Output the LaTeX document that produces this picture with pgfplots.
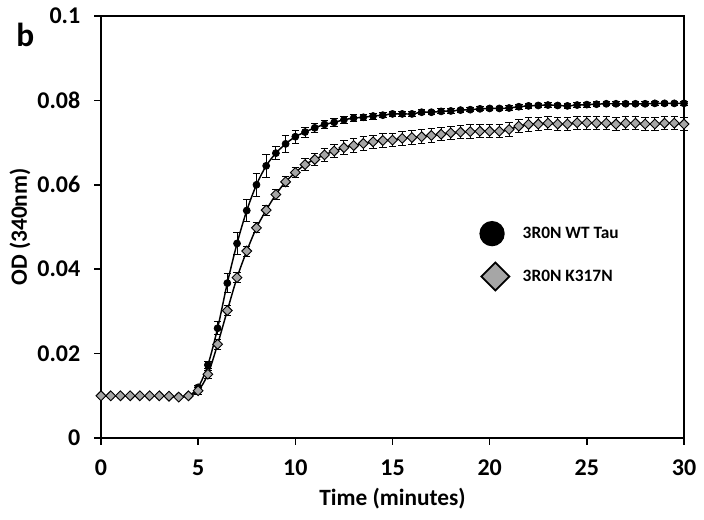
\documentclass[border=0pt]{standalone}
\usepackage{pgfplots}
\usepackage{pgfplotstable}
\pgfplotsset{compat=1.18}
\usepackage{fontspec}
\setmainfont{Carlito}
\definecolor{kgray}{RGB}{166,166,166}

\pgfplotstableread{
t y e
0 0.0100 0.0002
0.5 0.0100 0.0002
1 0.0100 0.0002
1.5 0.0100 0.0002
2 0.0100 0.0002
2.5 0.0100 0.0002
3 0.0100 0.0002
3.5 0.0099 0.0002
4 0.0098 0.0002
4.5 0.0100 0.0002
5 0.0120 0.0005
5.5 0.0173 0.0008
6 0.0260 0.0015
6.5 0.0367 0.0022
7 0.0461 0.0026
7.5 0.0539 0.0026
8 0.0600 0.0027
8.5 0.0645 0.0027
9 0.0675 0.0016
9.5 0.0697 0.0020
10 0.0714 0.0015
10.5 0.0725 0.0012
11 0.0735 0.0010
11.5 0.0743 0.0010
12 0.0748 0.0010
12.5 0.0754 0.0009
13 0.0758 0.0009
13.5 0.0760 0.0007
14 0.0763 0.0007
14.5 0.0765 0.0006
15 0.0768 0.0006
15.5 0.0768 0.0005
16 0.0768 0.0005
16.5 0.0772 0.0006
17 0.0772 0.0005
17.5 0.0774 0.0006
18 0.0775 0.0005
18.5 0.0777 0.0005
19 0.0778 0.0005
19.5 0.0780 0.0005
20 0.0781 0.0005
20.5 0.0781 0.0005
21 0.0782 0.0005
21.5 0.0785 0.0006
22 0.0787 0.0005
22.5 0.0788 0.0005
23 0.0789 0.0005
23.5 0.0788 0.0005
24 0.0787 0.0005
24.5 0.0789 0.0005
25 0.0790 0.0006
25.5 0.0791 0.0006
26 0.0792 0.0005
26.5 0.0792 0.0005
27 0.0792 0.0005
27.5 0.0792 0.0005
28 0.0792 0.0005
28.5 0.0793 0.0005
29 0.0793 0.0005
29.5 0.0793 0.0005
30 0.0793 0.0005
}\wttable

\pgfplotstableread{
t y e
0 0.0100 0.0002
0.5 0.0100 0.0002
1 0.0100 0.0002
1.5 0.0100 0.0002
2 0.0100 0.0002
2.5 0.0100 0.0002
3 0.0100 0.0002
3.5 0.0099 0.0002
4 0.0097 0.0002
4.5 0.0100 0.0002
5 0.0112 0.0008
5.5 0.0151 0.0010
6 0.0222 0.0012
6.5 0.0302 0.0012
7 0.0380 0.0012
7.5 0.0443 0.0012
8 0.0498 0.0012
8.5 0.0540 0.0012
9 0.0577 0.0012
9.5 0.0607 0.0012
10 0.0629 0.0012
10.5 0.0648 0.0014
11 0.0660 0.0014
11.5 0.0671 0.0016
12 0.0680 0.0016
12.5 0.0688 0.0016
13 0.0693 0.0016
13.5 0.0698 0.0016
14 0.0702 0.0016
14.5 0.0705 0.0016
15 0.0706 0.0016
15.5 0.0710 0.0016
16 0.0712 0.0016
16.5 0.0714 0.0016
17 0.0717 0.0016
17.5 0.0720 0.0016
18 0.0723 0.0016
18.5 0.0725 0.0016
19 0.0726 0.0016
19.5 0.0727 0.0016
20 0.0727 0.0016
20.5 0.0727 0.0016
21 0.0731 0.0016
21.5 0.0739 0.0016
22 0.0743 0.0016
22.5 0.0744 0.0016
23 0.0746 0.0016
23.5 0.0744 0.0016
24 0.0744 0.0016
24.5 0.0747 0.0016
25 0.0747 0.0016
25.5 0.0746 0.0016
26 0.0746 0.0016
26.5 0.0744 0.0016
27 0.0746 0.0016
27.5 0.0746 0.0016
28 0.0744 0.0016
28.5 0.0744 0.0016
29 0.0746 0.0016
29.5 0.0746 0.0016
30 0.0744 0.0016
}\ktable

\begin{document}
\begin{tikzpicture}
\path[use as bounding box] (-75.75pt,-60.75pt) rectangle (452.25pt,328.5pt);
\begin{axis}[
  at={(0pt,0pt)}, anchor=south west,
  scale only axis, width=437.25pt, height=316.5pt,
  xmin=0, xmax=30, ymin=0, ymax=0.1,
  xtick={0,5,...,30},
  ytick={0,0.02,0.04,0.06,0.08,0.1},
  yticklabels={0,0.02,0.04,0.06,0.08,0.1},
  tick pos=left, tick align=outside,
  major tick length=5pt,
  axis line style={line width=1.1pt},
  every tick/.style={line width=1.1pt, black},
  /pgf/number format/assume math mode=true,
  tick label style={font=\bfseries\fontsize{18}{20}\selectfont},
  xticklabel style={yshift=-8pt},
  yticklabel style={xshift=-7pt},
  xlabel={Time (minutes)},
  ylabel={OD (340nm)},
  label style={font=\bfseries\fontsize{17.5}{19}\selectfont},
  xlabel style={at={(axis description cs:0.5,-0.1445)}, anchor=center},
  ylabel style={at={(axis description cs:-0.139,0.5)}, anchor=center, rotate=0},
  legend style={at={(axis cs:19.15,0.0526)}, anchor=north west, draw=none, fill=none,
    font=\bfseries\fontsize{13}{15}\selectfont, row sep=11pt, inner sep=3pt},
  legend cell align=left,
  clip=false,
]
\addplot[black, line width=1.1pt, smooth, mark=*, mark size=2.6pt,
  mark options={fill=black, draw=black, line width=0.6pt},
  legend image code/.code={%
    \path[draw=none, fill=none] (0pt,-10pt) rectangle (32pt,10pt);
    \fill[black, draw=none] (11pt,0pt) circle (9.5pt);},
  error bars/.cd, y dir=both, y explicit,
  error bar style={line width=0.7pt, black},
  error mark options={rotate=90, mark size=2.8pt, line width=0.7pt, black},
  ]
  table[x=t, y=y, y error=e]{\wttable};
\addlegendentry{3R0N WT Tau}
\addplot[black, line width=1.1pt, smooth, mark=square*, mark size=2.6pt,
  mark options={rotate=45, fill=kgray, draw=black, line width=0.7pt},
  legend image code/.code={%
    \path[draw=none, fill=none] (0pt,-10pt) rectangle (32pt,10pt);
    \filldraw[fill=kgray, draw=black, line width=1.3pt] (13.5pt,10.5pt) -- (24pt,0pt) -- (13.5pt,-10.5pt) -- (3pt,0pt) -- cycle;},
  error bars/.cd, y dir=both, y explicit,
  error bar style={line width=0.7pt, black},
  error mark options={rotate=90, mark size=2.8pt, line width=0.7pt, black},
  ]
  table[x=t, y=y, y error=e]{\ktable};
\addlegendentry{3R0N K317N}
\node[font=\bfseries\fontsize{25}{27}\selectfont, anchor=center] at (axis description cs:-0.130,0.955) {b};
\end{axis}
\end{tikzpicture}
\end{document}
